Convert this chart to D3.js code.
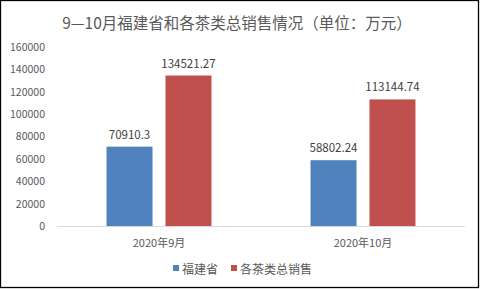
<!DOCTYPE html>
<html>
<head>
<meta charset="utf-8">
<script src="https://cdn.jsdelivr.net/npm/d3@7"></script>
<style>
	body { margin: 0; background: #fff; }
	svg { display: block; font-family: "Noto Sans CJK SC", "Noto Sans", sans-serif; }
</style>
</head>
<body>
<div id="chart"></div>
<script>
var title = '9—10月福建省和各茶类总销售情况（单位：万元）';
var months = ['2020年9月', '2020年10月'];
var seriesNames = ['福建省', '各茶类总销售'];
var fujian = [70910.3, 58802.24];
var allTea = [134521.27, 113144.74];
var yTicks = [0, 20000, 40000, 60000, 80000, 100000, 120000, 140000, 160000];
var colors = ['#4f81bd', '#c0504d'];

var width = 480, height = 289;
var plot = { left: 57, right: 465, top: 47, bottom: 226 };

var svg = d3.select('#chart').append('svg')
	.attr('width', width)
	.attr('height', height);

// chart frame
svg.append('rect')
	.attr('x', 0.5).attr('y', 0.5)
	.attr('width', 478).attr('height', 287)
	.attr('fill', '#fff')
	.attr('stroke', '#000')
	.attr('stroke-width', 1.3);

svg.append('text')
	.attr('x', 237).attr('y', 22)
	.attr('text-anchor', 'middle')
	.attr('dominant-baseline', 'central')
	.style('font-size', '15.5px')
	.attr('fill', '#595959')
	.text(title);

var y = d3.scaleLinear().domain([0, 160000]).range([plot.bottom, plot.top]);
var x0 = d3.scaleBand().domain(months).range([plot.left, plot.right]);
var x1 = d3.scaleBand().domain(seriesNames).range([0, x0.bandwidth()])
	.paddingInner(0.22).paddingOuter(0.84);

// y axis labels, no axis line
var yAxis = svg.append('g')
	.attr('transform', 'translate(' + plot.left + ',0)')
	.call(d3.axisLeft(y).tickValues(yTicks).tickSize(0).tickPadding(12).tickFormat(d3.format('d')));
yAxis.select('.domain').remove();
yAxis.selectAll('text')
	.style('font-size', '10.5px')
	.style('font-family', '"Noto Sans CJK SC", sans-serif')
	.attr('fill', '#595959');

var rows = months.map(function(m, i) { return { month: m, values: [fujian[i], allTea[i]] }; });

var groups = svg.selectAll('g.grp').data(rows).enter().append('g')
	.attr('class', 'grp')
	.attr('transform', function(d) { return 'translate(' + x0(d.month) + ',0)'; });

groups.selectAll('rect').data(function(d) { return d.values; }).enter().append('rect')
	.attr('x', function(d, i) { return x1(seriesNames[i]); })
	.attr('y', function(d) { return y(d); })
	.attr('width', x1.bandwidth())
	.attr('height', function(d) { return y(0) - y(d); })
	.attr('fill', function(d, i) { return colors[i]; });

groups.selectAll('text').data(function(d) { return d.values; }).enter().append('text')
	.attr('x', function(d, i) { return x1(seriesNames[i]) + x1.bandwidth() / 2; })
	.attr('y', function(d) { return y(d) - 13; })
	.attr('text-anchor', 'middle')
	.attr('dominant-baseline', 'central')
	.style('font-size', '11.5px')
	.attr('fill', '#404040')
	.text(function(d) { return d; });

// x axis
svg.append('line')
	.attr('x1', plot.left).attr('x2', plot.right)
	.attr('y1', plot.bottom + 0.5).attr('y2', plot.bottom + 0.5)
	.attr('stroke', '#d9d9d9');

svg.selectAll('text.xl').data(months).enter().append('text')
	.attr('class', 'xl')
	.attr('x', function(d) { return x0(d) + x0.bandwidth() / 2; })
	.attr('y', 242)
	.attr('text-anchor', 'middle')
	.attr('dominant-baseline', 'central')
	.style('font-size', '11px')
	.attr('fill', '#595959')
	.text(function(d) { return d; });

// legend
var legendX = [173, 231];
var legend = svg.selectAll('g.lg').data(seriesNames).enter().append('g')
	.attr('class', 'lg')
	.attr('transform', function(d, i) { return 'translate(' + legendX[i] + ',268)'; });
legend.append('rect')
	.attr('x', 0).attr('y', -3)
	.attr('width', 6).attr('height', 6)
	.attr('fill', function(d, i) { return colors[i]; });
legend.append('text')
	.attr('x', 9).attr('y', 0)
	.attr('dominant-baseline', 'central')
	.style('font-size', '12px')
	.attr('fill', '#595959')
	.text(function(d) { return d; });
</script>
</body>
</html>
